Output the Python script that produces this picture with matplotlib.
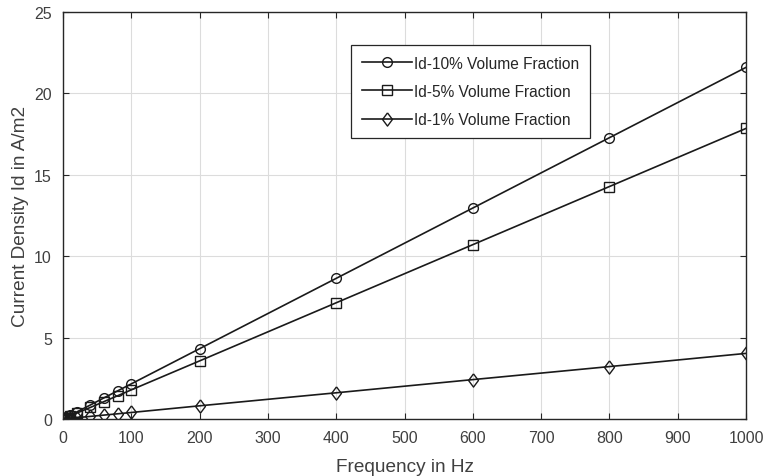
import numpy as np
import matplotlib.pyplot as plt

plt.rcParams['font.family'] = ['Liberation Sans', 'DejaVu Sans']

# frequency points (Hz) and current density (A/m2) per volume fraction
freq = [1, 5, 10, 20, 40, 60, 80, 100, 200, 400, 600, 800, 1000]
id10 = [0.02, 0.11, 0.22, 0.43, 0.86, 1.30, 1.73, 2.16, 4.32, 8.64, 12.96, 17.28, 21.60]
id5 = [0.02, 0.09, 0.18, 0.36, 0.71, 1.07, 1.43, 1.79, 3.57, 7.14, 10.71, 14.28, 17.85]
id1 = [0.00, 0.02, 0.04, 0.08, 0.16, 0.24, 0.32, 0.40, 0.81, 1.61, 2.42, 3.22, 4.03]

# slightly tall diamond marker
diamond = [(0, 1), (0.75, 0), (0, -1), (-0.75, 0), (0, 1)]

fig = plt.figure(figsize=(7.65, 4.77), dpi=100)
ax = fig.add_axes([0.0824, 0.1195, 0.8928, 0.8532])

mk = dict(color='#1a1a1a', lw=1.2, markerfacecolor='none', markeredgecolor='#1a1a1a',
          markeredgewidth=1.0)
ax.plot(freq, id10, marker='o', markersize=7, label='Id-10% Volume Fraction', **mk)
ax.plot(freq, id5, marker='s', markersize=6.5, label='Id-5% Volume Fraction', **mk)
ax.plot(freq, id1, marker=diamond, markersize=9.5, label='Id-1% Volume Fraction', **mk)

ax.set_xlim(0, 1000)
ax.set_ylim(0, 25)
ax.set_xticks(np.arange(0, 1001, 100))
ax.set_yticks(np.arange(0, 26, 5))
ax.grid(True, color='#dcdcdc', lw=0.8)
ax.set_axisbelow(True)
ax.tick_params(direction='in', top=True, right=True, length=4, labelsize=11.5,
               colors='#262626', labelcolor='#404040', pad=8)
for s in ax.spines.values():
    s.set_color('#262626')
    s.set_linewidth(1)

ax.set_xlabel('Frequency in Hz', fontsize=13.7, color='#404040', labelpad=9)
ax.set_ylabel('Current Density Id in A/m2', fontsize=13.7, color='#404040', labelpad=4)

leg = ax.legend(loc='upper left', bbox_to_anchor=(0.4217, 0.919), borderaxespad=0,
                fontsize=11.2, frameon=True, fancybox=False, edgecolor='#262626',
                framealpha=1, handlelength=3.2, borderpad=0.7, labelspacing=0.84,
                handletextpad=0.15)
leg.get_frame().set_linewidth(0.9)
for t in leg.get_texts():
    t.set_color('#262626')

fig.savefig('out.png', dpi=100)
